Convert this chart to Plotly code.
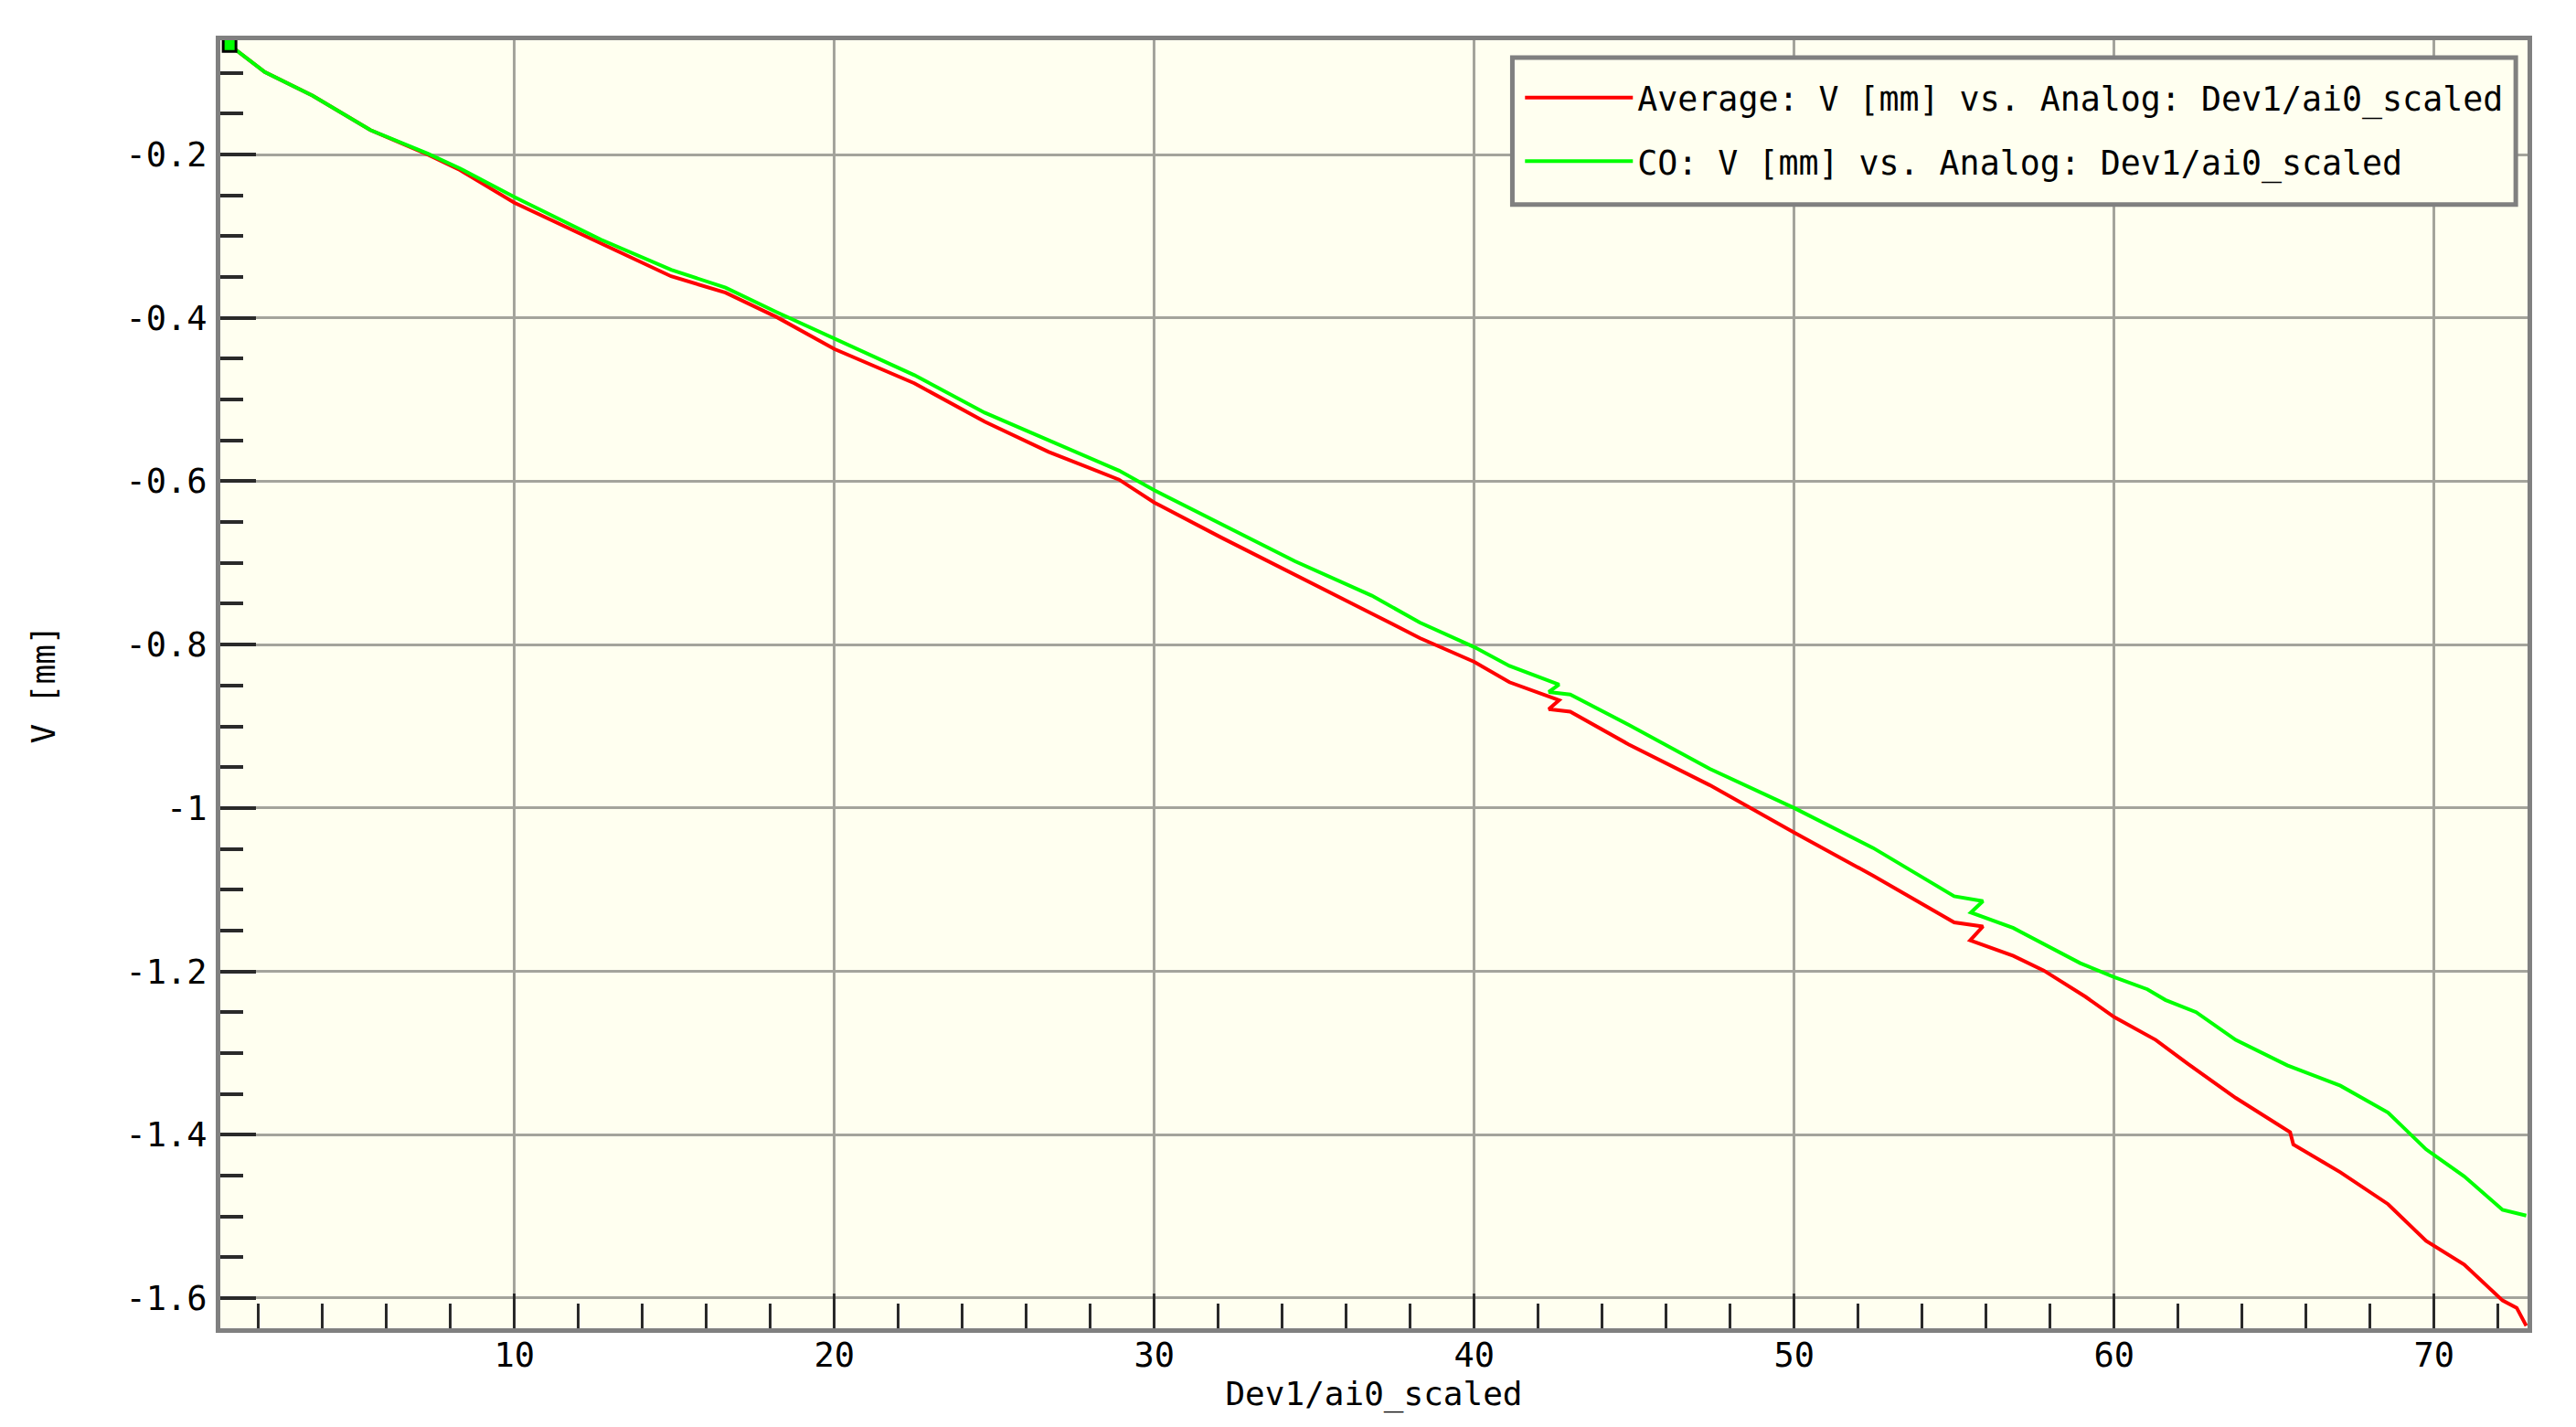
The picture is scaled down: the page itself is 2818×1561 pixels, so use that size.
import plotly.graph_objects as go

# ---- data ----
avg_x = [1.1, 2.2, 3.7, 5.5, 7.3, 8.3, 10.0, 12.7, 14.9, 16.6, 18.2, 20.0, 22.5, 24.7,
         26.7, 28.9, 30.0, 32.1, 34.4, 36.8, 38.3, 40.0, 41.1, 42.65, 42.33, 43.0,
         44.82, 47.36, 50.0, 52.47, 55.0, 55.9, 55.5, 56.85, 57.8, 59.1, 60.0, 61.3,
         62.3, 63.8, 65.5, 65.6, 67.07, 68.56, 69.75, 70.94, 72.14, 72.58, 72.88]
avg_y = [-0.066, -0.099, -0.128, -0.170, -0.200, -0.219, -0.259, -0.309, -0.349, -0.369,
         -0.399, -0.438, -0.480, -0.527, -0.564, -0.598, -0.626, -0.669, -0.714, -0.762,
         -0.792, -0.821, -0.846, -0.868, -0.879, -0.882, -0.922, -0.972, -1.030, -1.083,
         -1.140, -1.145, -1.162, -1.181, -1.199, -1.231, -1.256, -1.284, -1.313, -1.355,
         -1.397, -1.412, -1.446, -1.485, -1.530, -1.559, -1.603, -1.612, -1.634]

co_x = [1.1, 2.2, 3.7, 5.5, 7.3, 8.3, 10.0, 12.7, 14.9, 16.6, 18.2, 20.0, 22.5, 24.7,
        26.7, 28.9, 30.0, 32.1, 34.4, 36.8, 38.3, 40.0, 41.1, 42.65, 42.33, 43.0,
        44.82, 47.36, 50.0, 52.47, 55.0, 55.9, 55.52, 56.85, 57.8, 58.94, 60.0, 61.04,
        61.6, 62.56, 63.8, 65.41, 67.07, 68.56, 69.75, 70.94, 72.14, 72.88]
co_y = [-0.066, -0.099, -0.128, -0.170, -0.199, -0.217, -0.252, -0.304, -0.341, -0.363,
        -0.393, -0.425, -0.470, -0.516, -0.550, -0.587, -0.611, -0.652, -0.698, -0.740,
        -0.773, -0.803, -0.826, -0.849, -0.858, -0.861, -0.898, -0.952, -1.000, -1.049,
        -1.108, -1.114, -1.128, -1.147, -1.166, -1.190, -1.207, -1.222, -1.235, -1.250,
        -1.284, -1.315, -1.340, -1.373, -1.418, -1.451, -1.492, -1.499]

ytick_vals = [-0.2, -0.4, -0.6, -0.8, -1.0, -1.2, -1.4, -1.6]
ytick_text = ["-0.2", "-0.4", "-0.6", "-0.8", "-1", "-1.2", "-1.4", "-1.6"]
xtick_vals = [10, 20, 30, 40, 50, 60, 70]
xtick_text = ["10", "20", "30", "40", "50", "60", "70"]

series_names = ["Average: V [mm] vs. Analog: Dev1/ai0_scaled",
                "CO: V [mm] vs. Analog: Dev1/ai0_scaled"]

FONT = "DejaVu Sans Mono"
BG = "#FFFFF0"
FRAME = "#808080"
GRID = "#A4A49C"
TICK = "#2A2A2A"

fig = go.Figure()
fig.add_trace(go.Scatter(x=avg_x, y=avg_y, mode="lines", name=series_names[0],
                         line=dict(color="#FF0000", width=4), legendgroup="a"))
fig.add_trace(go.Scatter(x=co_x, y=co_y, mode="lines", name=series_names[1],
                         line=dict(color="#00FF00", width=4), legendgroup="b"))
fig.add_trace(go.Scatter(x=co_x[:1], y=co_y[:1], mode="markers", showlegend=False,
                         marker=dict(symbol="square", size=14, color="#00FF00",
                                     line=dict(color="#000000", width=3)),
                         cliponaxis=False))

# legend frame (drawn as a box behind the legend entries)
fig.add_shape(type="rect", xref="paper", yref="paper",
              x0=0.560, x1=0.9949, y0=0.8725, y1=0.9865,
              fillcolor=BG, line=dict(color=FRAME, width=5), layer="above")

fig.update_layout(
    width=2810, height=1553,
    margin=dict(l=233, r=53, t=36, b=108),
    paper_bgcolor="#FFFFFF", plot_bgcolor=BG,
    font=dict(family=FONT, size=36, color="#000000"),
    showlegend=True,
    legend=dict(x=0.5635, y=0.977, xanchor="left", yanchor="top",
                bgcolor="rgba(0,0,0,0)", borderwidth=0,
                font=dict(family=FONT, size=36.6, color="#000000"),
                itemwidth=118, tracegroupgap=19, traceorder="grouped"),
    xaxis=dict(
        range=[0.81, 72.92], tickmode="array", tickvals=xtick_vals, ticktext=xtick_text,
        showline=True, linecolor=FRAME, linewidth=5, mirror=True,
        showgrid=True, gridcolor=GRID, gridwidth=3, zeroline=False,
        ticks="inside", ticklen=38, tickwidth=3, tickcolor=TICK,
        minor=dict(tickmode="linear", tick0=0, dtick=2, ticks="inside", ticklen=27,
                   tickwidth=3, tickcolor=TICK, showgrid=False),
        ticklabelstandoff=-7, tickfont=dict(family=FONT, size=37),
        title=dict(text="Dev1/ai0_scaled", standoff=2, font=dict(family=FONT, size=36)),
    ),
    yaxis=dict(
        range=[-1.637, -0.060], tickmode="array", tickvals=ytick_vals, ticktext=ytick_text,
        showline=True, linecolor=FRAME, linewidth=5, mirror=True,
        showgrid=True, gridcolor=GRID, gridwidth=3, zeroline=False,
        ticks="inside", ticklen=39, tickwidth=4, tickcolor=TICK,
        minor=dict(tickmode="linear", tick0=0, dtick=0.05, ticks="inside", ticklen=25,
                   tickwidth=4, tickcolor=TICK, showgrid=False),
        ticklabelstandoff=2, tickfont=dict(family=FONT, size=37),
        title=dict(text="V [mm]", standoff=67, font=dict(family=FONT, size=36)),
    ),
)

fig.write_html("out.html")
